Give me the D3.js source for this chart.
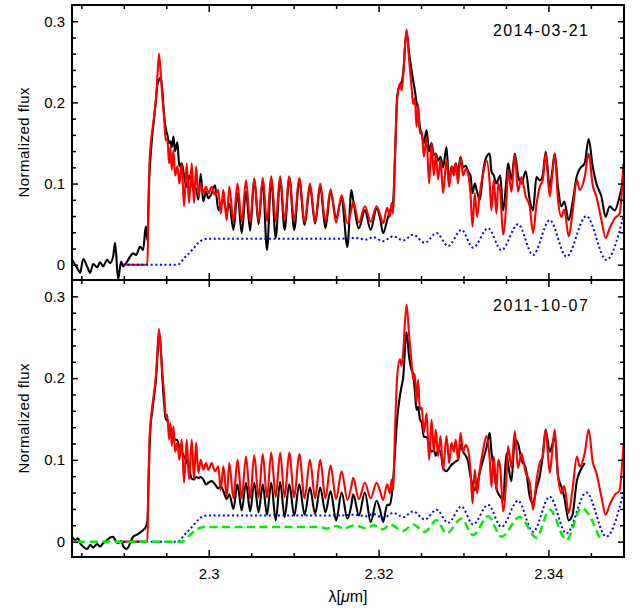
<!DOCTYPE html>
<html>
<head>
<meta charset="utf-8">
<script src="https://cdn.jsdelivr.net/npm/d3@7"></script>
<style>
  body { margin: 0; background: #fff; }
  svg text { font-family: "Liberation Sans", Arial, sans-serif; fill: #000; }
</style>
</head>
<body>
<div id="container"></div>
<script>
// wavelength grid (micron) shared by the observed spectra and the model
const wavelength = [
  // blue side, before the first bandhead
  2.28392, 2.28427, 2.28462, 2.28486, 2.28521, 2.28568, 2.28604, 2.28639, 2.28686, 2.28721,
  2.28756, 2.28804, 2.28839, 2.28874, 2.28898, 2.28933, 2.28968, 2.28992, 2.29027, 2.29051,
  2.29074, 2.29109, 2.29145, 2.29192, 2.29227, 2.29259, 2.29278,
  // 2-0 bandhead
  2.29289, 2.29301, 2.29318, 2.29336, 2.29356, 2.29380, 2.29395, 2.29415, 2.29435, 2.29454,
  2.29474, 2.29494, 2.29513, 2.29533, 2.29548, 2.29565, 2.29584, 2.29604, 2.29631, 2.29654,
  2.29682, 2.29709, 2.29741, 2.29768, 2.29800, 2.29827, 2.29851, 2.29878, 2.29906, 2.29936,
  2.29968, 2.29995, 2.30035, 2.30074, 2.30113, 2.30141, 2.30172, 2.30212, 2.30242,
  // line forest
  2.30291, 2.30339, 2.30388, 2.30439, 2.30488, 2.30536, 2.30587, 2.30636, 2.30686, 2.30736,
  2.30789, 2.30841, 2.30894, 2.30948, 2.31007, 2.31066, 2.31129, 2.31192, 2.31253, 2.31313,
  2.31374, 2.31435, 2.31500, 2.31565, 2.31633, 2.31680, 2.31701, 2.31768, 2.31839, 2.31907,
  2.31976, 2.32015, 2.32054, 2.32101, 2.32133, 2.32153, 2.32172,
  // 3-1 bandhead and red side
  2.32192, 2.32219, 2.32251, 2.32271, 2.32289, 2.32329, 2.32360, 2.32388, 2.32407, 2.32427,
  2.32447, 2.32466, 2.32486, 2.32509, 2.32533, 2.32565, 2.32595, 2.32624, 2.32651, 2.32674,
  2.32701, 2.32729, 2.32760, 2.32800, 2.32831, 2.32859, 2.32886, 2.32909, 2.32936, 2.32965,
  2.32995, 2.33027, 2.33054, 2.33082, 2.33106, 2.33133, 2.33160, 2.33192, 2.33231, 2.33271,
  2.33309, 2.33329, 2.33356, 2.33388, 2.33409, 2.33433, 2.33466, 2.33506, 2.33525, 2.33565,
  2.33604, 2.33642, 2.33682, 2.33733, 2.33780, 2.33819, 2.33859, 2.33898, 2.33933, 2.33968,
  2.34015, 2.34045, 2.34074, 2.34113, 2.34153, 2.34186, 2.34239, 2.34282, 2.34336, 2.34368,
  2.34427, 2.34474, 2.34521, 2.34565, 2.34624, 2.34674, 2.34721, 2.34780, 2.34839, 2.34868,
  2.34886
];

// red: model spectrum (same in both panels)
const modelFlux = [
  null, null, null, null, null, null, null, null, null, null,
  null, null, null, null, null, null, null, 0, 0, 0,
  0, 0, 0, 0, 0, 0, 0,
  0.063, 0.121, 0.149, 0.166, 0.182, 0.206, 0.231, 0.260, 0.235, 0.206,
  0.182, 0.153, 0.155, 0.125, 0.145, 0.117, 0.141, 0.110, 0.121, 0.100,
  0.125, 0.072, 0.125, 0.076, 0.125, 0.076, 0.121, 0.084, 0.100, 0.088,
  0.096, 0.088, 0.096, 0.086, 0.092, 0.063, 0.092, 0.055, 0.096,
  0.053, 0.100, 0.053, 0.104, 0.053, 0.106, 0.054, 0.107, 0.054, 0.109,
  0.054, 0.109, 0.054, 0.109, 0.054, 0.107, 0.053, 0.100, 0.053, 0.100,
  0.053, 0.093, 0.052, 0.086, 0.051, 0.068, 0.078, 0.052, 0.072, 0.053,
  0.072, 0.063, 0.051, 0.070, 0.059, 0.076, 0.063,
  0.129, 0.202, 0.223, 0.215, 0.231, 0.290, 0.252, 0.219, 0.198, 0.205,
  0.170, 0.198, 0.162, 0.164, 0.133, 0.157, 0.100, 0.149, 0.110, 0.137,
  0.105, 0.129, 0.088, 0.129, 0.096, 0.121, 0.110, 0.125, 0.100, 0.133,
  0.110, 0.118, 0.112, 0.088, 0.047, 0.088, 0.059, 0.088, 0.112, 0.129,
  0.100, 0.067, 0.104, 0.063, 0.100, 0.090, 0.037, 0.080, 0.117, 0.090,
  0.135, 0.090, 0.108, 0.084, 0.072, 0.039, 0.074, 0.096, 0.104, 0.137,
  0.084, 0.110, 0.137, 0.080, 0.059, 0.068, 0.035, 0.063, 0.104, 0.092,
  0.108, 0.137, 0.098, 0.084, 0.055, 0.033, 0.045, 0.057, 0.063, 0.095,
  0.121
];

// black: observed spectrum 2014-03-21
const flux2014 = [
  0.006, 0.000, -0.006, -0.010, 0.007, -0.002, -0.010, 0.001, -0.003, 0.003,
  -0.002, 0.006, 0.002, 0.010, 0.027, -0.018, 0.004, -0.002, 0.002, 0.006,
  0.010, 0.014, 0.012, 0.022, 0.018, 0.047, 0.030,
  0.070, 0.110, 0.137, 0.160, 0.180, 0.205, 0.222, 0.228, 0.231, 0.214,
  0.185, 0.168, 0.160, 0.150, 0.152, 0.145, 0.158, 0.140, 0.151, 0.121,
  0.125, 0.110, 0.096, 0.110, 0.100, 0.090, 0.094, 0.080, 0.112, 0.078,
  0.090, 0.082, 0.088, 0.098, 0.067, 0.075, 0.080, 0.065, 0.075,
  0.043, 0.088, 0.039, 0.090, 0.042, 0.106, 0.050, 0.104, 0.018, 0.106,
  0.033, 0.106, 0.043, 0.108, 0.043, 0.104, 0.049, 0.096, 0.051, 0.096,
  0.045, 0.090, 0.058, 0.082, 0.022, 0.092, 0.080, 0.045, 0.067, 0.043,
  0.069, 0.059, 0.039, 0.055, 0.066, 0.072, 0.078,
  0.130, 0.207, 0.222, 0.225, 0.235, 0.288, 0.260, 0.240, 0.227, 0.215,
  0.200, 0.190, 0.170, 0.160, 0.150, 0.166, 0.140, 0.150, 0.135, 0.137,
  0.128, 0.133, 0.120, 0.145, 0.100, 0.121, 0.118, 0.125, 0.115, 0.133,
  0.120, 0.122, 0.115, 0.110, 0.088, 0.100, 0.090, 0.080, 0.115, 0.133,
  0.137, 0.115, 0.110, 0.100, 0.105, 0.110, 0.067, 0.105, 0.125, 0.105,
  0.137, 0.110, 0.100, 0.115, 0.080, 0.067, 0.108, 0.104, 0.110, 0.139,
  0.096, 0.115, 0.137, 0.095, 0.072, 0.078, 0.055, 0.075, 0.110, 0.118,
  0.125, 0.155, 0.121, 0.100, 0.084, 0.059, 0.072, 0.067, 0.085, 0.100,
  0.125
];

// black: observed spectrum 2011-10-07 (ends before the red edge)
const flux2011 = [
  0.006, 0.002, 0.004, -0.002, -0.006, -0.009, -0.004, -0.007, -0.003, -0.006,
  -0.002, 0.002, 0.005, 0.006, 0.002, -0.002, 0.001, -0.005, -0.009, -0.007,
  -0.002, 0.006, 0.008, 0.011, 0.014, 0.018, 0.025,
  0.065, 0.110, 0.145, 0.160, 0.178, 0.200, 0.225, 0.255, 0.238, 0.200,
  0.170, 0.150, 0.148, 0.138, 0.140, 0.130, 0.128, 0.125, 0.124, 0.115,
  0.110, 0.104, 0.098, 0.090, 0.077, 0.076, 0.079, 0.078, 0.079, 0.076,
  0.070, 0.072, 0.074, 0.070, 0.065, 0.068, 0.062, 0.052, 0.058,
  0.040, 0.070, 0.038, 0.072, 0.037, 0.072, 0.036, 0.070, 0.033, 0.072,
  0.026, 0.073, 0.030, 0.070, 0.032, 0.070, 0.033, 0.066, 0.034, 0.066,
  0.036, 0.062, 0.026, 0.060, 0.028, 0.045, 0.058, 0.032, 0.060, 0.024,
  0.050, 0.040, 0.024, 0.045, 0.045, 0.055, 0.075,
  0.108, 0.150, 0.178, 0.190, 0.200, 0.256, 0.225, 0.210, 0.205, 0.185,
  0.161, 0.165, 0.150, 0.145, 0.128, 0.128, 0.118, 0.110, 0.112, 0.105,
  0.112, 0.110, 0.090, 0.086, 0.090, 0.094, 0.096, 0.098, 0.100, 0.118,
  0.110, 0.105, 0.098, 0.080, 0.070, 0.063, 0.070, 0.085, 0.100, 0.115,
  0.133, 0.110, 0.090, 0.065, 0.059, 0.055, 0.051, 0.108, 0.095, 0.074,
  0.125, 0.120, 0.100, 0.090, 0.055, 0.047, 0.065, 0.080, 0.105, 0.137,
  0.110, 0.118, 0.130, 0.080, 0.067, 0.055, 0.026, 0.032, 0.075, 0.085,
  0.096, null, null, null, null, null, null, null, null, null,
  null
];

// blue dotted: continuum / smooth component
const contWavelength = [
  2.28992, 2.29604, 2.29654, 2.29709, 2.29768, 2.29827, 2.29878, 2.29936, 2.29995, 2.31545,
  2.31721, 2.31859, 2.31936, 2.32054, 2.32172, 2.32289, 2.32407, 2.32545, 2.32682, 2.32819,
  2.32976, 2.33113, 2.33289, 2.33447, 2.33642, 2.33819, 2.34015, 2.34212, 2.34447, 2.34682,
  2.34886
];
const contFlux = [
  0, 0, 0.001, 0.008, 0.014, 0.021, 0.027, 0.031, 0.032, 0.032,
  0.033, 0.031, 0.034, 0.029, 0.035, 0.030, 0.037, 0.027, 0.039, 0.023,
  0.043, 0.021, 0.045, 0.018, 0.050, 0.012, 0.055, 0.010, 0.060, 0.006,
  0.061
];

// green dashed: extra component, 2011 panel only
const dustWavelength = [
  2.28451, 2.29686, 2.29709, 2.29741, 2.29768, 2.29800, 2.29827, 2.29851, 2.29878, 2.29906,
  2.29936, 2.31309, 2.31388, 2.31506, 2.31584, 2.31721, 2.31859, 2.31936, 2.32054, 2.32133,
  2.32289, 2.32407, 2.32545, 2.32682, 2.32800, 2.32976, 2.33113, 2.33289, 2.33447, 2.33662,
  2.33859, 2.34015, 2.34212, 2.34388, 2.34604
];
const dustFlux = [
  0, 0, 0.001, 0.004, 0.007, 0.010, 0.013, 0.015, 0.016, 0.017,
  0.018, 0.018, 0.016, 0.019, 0.016, 0.020, 0.016, 0.020, 0.015, 0.021,
  0.013, 0.021, 0.012, 0.026, 0.010, 0.028, 0.008, 0.031, 0.006, 0.030,
  0.005, 0.039, 0.002, 0.041, 0.004
];

const xTicks = [2.30, 2.32, 2.34];
const xTickLabels = ["2.3", "2.32", "2.34"];
const xMinorTicks = [2.285, 2.29, 2.295, 2.305, 2.31, 2.315, 2.325, 2.33, 2.335, 2.345];
const yTicks = [0, 0.1, 0.2, 0.3];
const yTickLabels = ["0", "0.1", "0.2", "0.3"];
const yMinorTicks = [0.02, 0.04, 0.06, 0.08, 0.12, 0.14, 0.16, 0.18, 0.22, 0.24, 0.26, 0.28];
const dates = ["2014-03-21", "2011-10-07"];

const width = 644;
const height = 614;
const marginLeft = 72;
const marginRight = 20;

const svg = d3.create("svg")
    .attr("width", width)
    .attr("height", height);

const x = d3.scaleLinear()
    .domain([2.2839, 2.3489])
    .range([marginLeft, width - marginRight]);

const panels = [
    { date: dates[0], flux: flux2014, dust: false, top: 5, bottom: 280 },
    { date: dates[1], flux: flux2011, dust: true, top: 280, bottom: 557 }
];

const fmtX = d => xTickLabels[xTicks.indexOf(d)];
const fmtY = d => yTickLabels[yTicks.indexOf(d)];

panels.forEach((p, k) => {
    const y = d3.scaleLinear()
        .domain([-0.0188, 0.32])
        .range([p.bottom, p.top]);

    const clipId = "clip" + k;
    svg.append("clipPath").attr("id", clipId)
        .append("rect")
        .attr("x", x.range()[0]).attr("y", p.top)
        .attr("width", x.range()[1] - x.range()[0])
        .attr("height", p.bottom - p.top);

    const g = svg.append("g").attr("clip-path", `url(#${clipId})`);

    const path = (xs, ys) => d3.line()
        .defined((d, i) => ys[i] != null)
        .x((d, i) => x(xs[i]))
        .y((d, i) => y(ys[i]))
        .curve(d3.curveMonotoneX)(xs);

    g.append("path")
        .attr("d", path(wavelength, p.flux))
        .attr("fill", "none")
        .attr("stroke", "#000")
        .attr("stroke-width", 2.1)
        .attr("stroke-linejoin", "round");

    g.append("path")
        .attr("d", path(wavelength, modelFlux))
        .attr("fill", "none")
        .attr("stroke", "#ff0000")
        .attr("stroke-width", 2.1)
        .attr("stroke-linejoin", "round");

    g.append("path")
        .attr("d", path(contWavelength, contFlux))
        .attr("fill", "none")
        .attr("stroke", "#0000ff")
        .attr("stroke-width", 2)
        .attr("stroke-dasharray", "2,2.6");

    if (p.dust) {
        g.append("path")
            .attr("d", path(dustWavelength, dustFlux))
            .attr("fill", "none")
            .attr("stroke", "#00ee00")
            .attr("stroke-width", 2.5)
            .attr("stroke-dasharray", "8,4.5");
    }

    // axes, ticks pointing inwards on all four sides
    const axes = svg.append("g").attr("class", "axes");

    axes.append("g")
        .attr("transform", `translate(0,${p.bottom})`)
        .call(d3.axisBottom(x).tickValues(xTicks).tickSize(-7).tickPadding(11)
            .tickFormat(k === 1 ? fmtX : () => ""));
    axes.append("g")
        .attr("transform", `translate(0,${p.bottom})`)
        .call(d3.axisBottom(x).tickValues(xMinorTicks).tickSize(-4).tickFormat(() => ""));
    axes.append("g")
        .attr("transform", `translate(0,${p.top})`)
        .call(d3.axisTop(x).tickValues(xTicks).tickSize(-7).tickFormat(() => ""));
    axes.append("g")
        .attr("transform", `translate(0,${p.top})`)
        .call(d3.axisTop(x).tickValues(xMinorTicks).tickSize(-4).tickFormat(() => ""));

    axes.append("g")
        .attr("transform", `translate(${x.range()[0]},0)`)
        .call(d3.axisLeft(y).tickValues(yTicks).tickSize(-6).tickPadding(7).tickFormat(fmtY));
    axes.append("g")
        .attr("transform", `translate(${x.range()[0]},0)`)
        .call(d3.axisLeft(y).tickValues(yMinorTicks).tickSize(-4).tickFormat(() => ""));
    axes.append("g")
        .attr("transform", `translate(${x.range()[1]},0)`)
        .call(d3.axisRight(y).tickValues(yTicks).tickSize(-6).tickFormat(() => ""));
    axes.append("g")
        .attr("transform", `translate(${x.range()[1]},0)`)
        .call(d3.axisRight(y).tickValues(yMinorTicks).tickSize(-4).tickFormat(() => ""));

    axes.selectAll(".domain").remove();
    axes.selectAll(".tick line").attr("stroke", "#000").attr("stroke-width", 1.5);
    axes.selectAll(".tick text")
        .attr("fill", "#000")
        .style("font-size", "15px")
        .style("font-family", "'Liberation Sans', Arial, sans-serif");

    svg.append("rect")
        .attr("x", x.range()[0]).attr("y", p.top)
        .attr("width", x.range()[1] - x.range()[0])
        .attr("height", p.bottom - p.top)
        .attr("fill", "none")
        .attr("stroke", "#000")
        .attr("stroke-width", 2);

    svg.append("text")
        .attr("x", 493)
        .attr("y", p.top + 31)
        .attr("textLength", 95)
        .attr("lengthAdjust", "spacing")
        .style("font-size", "16px")
        .text(p.date);

    svg.append("text")
        .attr("transform", `translate(29,${(p.top + p.bottom) / 2}) rotate(-90)`)
        .attr("text-anchor", "middle")
        .attr("textLength", 110)
        .attr("lengthAdjust", "spacing")
        .style("font-size", "15px")
        .text("Normalized flux");
});

const xTitle = svg.append("text")
    .attr("x", (x.range()[0] + x.range()[1]) / 2)
    .attr("y", 602)
    .attr("text-anchor", "middle")
    .style("font-size", "16px");
xTitle.append("tspan").text("λ[");
xTitle.append("tspan").style("font-style", "italic").text("μ");
xTitle.append("tspan").text("m]");

document.querySelector("#container").appendChild(svg.node());
</script>
</body>
</html>
